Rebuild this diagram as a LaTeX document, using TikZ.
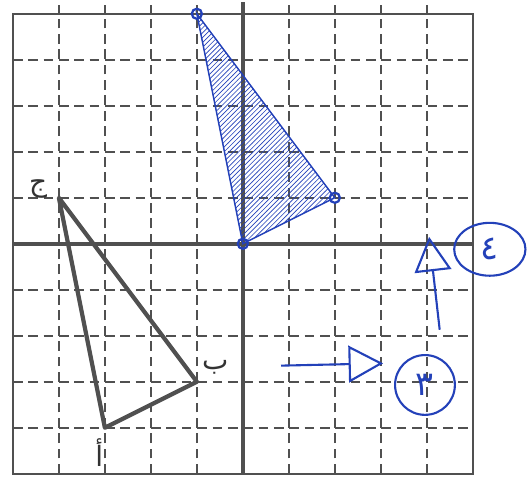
\documentclass[tikz,border=0pt]{standalone}
\usepackage{fontspec}
\newfontfamily\arabicfont[Script=Arabic]{DejaVu Sans}
\TeXXeTstate=1
\usetikzlibrary{arrows.meta,patterns,shapes.geometric}
\definecolor{ink}{RGB}{35,65,185}
\definecolor{pencil}{RGB}{80,80,80}
\tikzset{
  gridline/.style={pencil, dash pattern=on 6pt off 3.5pt, line width=1.5pt},
  axisline/.style={pencil, line width=2.4pt},
  origtri/.style={pencil, line width=2.6pt, line join=round},
  imagetri/.style={ink, line width=0.9pt, pattern=north east lines, pattern color=ink},
  vertexdot/.style={ink, line width=1.4pt},
  answer/.style={ink, line width=1.3pt, -{Triangle[open, length=0.75cm, width=0.8cm, line width=1.3pt]}},
  tag/.style={ink, draw, line width=1.3pt, inner sep=0pt, font=\arabicfont\huge},
  letter/.style={black!80, font=\arabicfont\LARGE}
}
\begin{document}
\begin{tikzpicture}
  \useasboundingbox (-5.28,-5.30) rectangle (6.20,5.30);
  % grid
  \foreach \i in {-4,...,4} {
    \draw[gridline] (\i,-5) -- (\i,5.2);
    \draw[gridline] (-5,\i) -- (5,\i);
  }
  \draw[pencil, line width=1.3pt] (-5,-5) rectangle (5,5);
  \draw[axisline] (-5,0) -- (5,0);
  \draw[axisline] (0,-5) -- (0,5.25);
  % original triangle
  \coordinate (A) at (-3,-4);
  \coordinate (B) at (-1,-3);
  \coordinate (C) at (-4,1);
  \draw[origtri] (A) -- (B) -- (C) -- cycle;
  \node[letter] (labA) at (-3.12,-4.55) {\beginR أ\endR};
  \node[letter] (labB) at (-0.6,-2.68) {\beginR ب\endR};
  \node[letter] (labC) at (-4.45,1.2) {\beginR ج\endR};
  % image
  \coordinate (A1) at (0,0);
  \coordinate (B1) at (2,1);
  \coordinate (C1) at (-1,5);
  \draw[imagetri] (A1) -- (B1) -- (C1) -- cycle;
  \foreach \p in {A1,B1,C1}
    \draw[vertexdot] (\p) circle (0.11);
  % answers
  \coordinate (up0) at (4.28,-1.87);
  \coordinate (up1) at (4.05,0.15);
  \draw[answer] (up0) -- (up1);
  \node[tag, ellipse, minimum width=1.55cm, minimum height=1.15cm] (four) at (5.37,-0.12) {\beginR ٤\endR};
  \coordinate (rt0) at (0.83,-2.65);
  \coordinate (rt1) at (3.05,-2.6);
  \draw[answer] (rt0) -- (rt1);
  \node[tag, circle, minimum size=1.3cm] (three) at (3.96,-3.07) {\beginR ٣\endR};
\end{tikzpicture}
\end{document}
